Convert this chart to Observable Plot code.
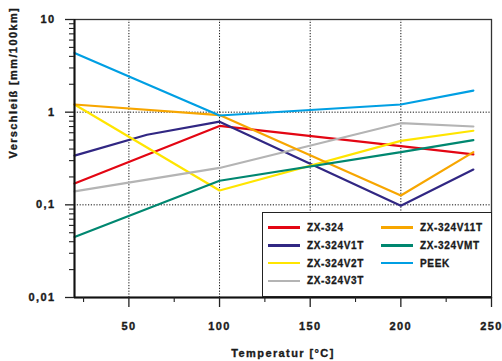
<!DOCTYPE html>
<html>
<head>
<meta charset="utf-8">
<script src="https://cdn.jsdelivr.net/npm/d3@7"></script>
<script src="https://cdn.jsdelivr.net/npm/@observablehq/plot@0.6"></script>
<style>
  html, body { margin: 0; padding: 0; background: #fff; }
  #wrap { position: relative; width: 502px; height: 361px; overflow: hidden; }
  .chart text { letter-spacing: 1.4px; stroke: #1a1a1a; stroke-width: 0.35px; }
  #legend {
    position: absolute; left: 262px; top: 212px; width: 230px; height: 85px;
    box-sizing: border-box; border: 1.5px solid #222; background: #fff;
    font-family: "Liberation Sans", Arial, sans-serif; font-weight: bold;
    font-size: 10px; letter-spacing: 0.65px; color: #1a1a1a;
    -webkit-text-stroke: 0.3px #1a1a1a;
  }
  .item { position: absolute; height: 12px; display: flex; align-items: center; white-space: nowrap; }
  .sw { width: 32px; height: 2.6px; margin-right: 7px; }
</style>
</head>
<body>
<div id="wrap"></div>
<script>
// Series names (legend order is column-major: first four left, rest right)
const seriesNames = ["ZX-324", "ZX-324V1T", "ZX-324V2T", "ZX-324V3T", "ZX-324V11T", "ZX-324VMT", "PEEK"];
const seriesColors = ["#e30613", "#312783", "#ffe500", "#b4b4b4", "#f7a600", "#008770", "#009fe3"];

// Temperatures [°C] at which wear was measured
const tempsCommon = [20, 100, 200, 240];
const tempsV1T = [20, 60, 100, 200, 240];

// Wear [mm/100km]
const wearZX324 = [0.17, 0.71, 0.43, 0.35];
const wearV1T = [0.34, 0.57, 0.79, 0.098, 0.24];
const wearV2T = [1.21, 0.143, 0.49, 0.63];
const wearV3T = [0.14, 0.25, 0.76, 0.70];
const wearV11T = [1.21, 0.93, 0.126, 0.37];
const wearVMT = [0.045, 0.182, 0.37, 0.50];
const wearPEEK = [4.35, 0.92, 1.21, 1.71];

// Axis ticks
const xMajor = [50, 100, 150, 200, 250];
const xMinor = [25, 75, 125, 175, 225];
const yMajor = [0.01, 0.1, 1, 10];
const yMinor = [0.01, 0.1, 1].flatMap(d => [2, 3, 4, 5, 6, 7, 8, 9].map(k => +(d * k).toPrecision(3)));
const xGrid = [50, 100, 150, 200];
const yGrid = [0.1, 1];

const xLabel = "Temperatur [°C]";
const yLabel = "Verschleiß [mm/100km]";

const seriesTemps = [tempsCommon, tempsV1T, tempsCommon, tempsCommon, tempsCommon, tempsCommon, tempsCommon];
const seriesWear = [wearZX324, wearV1T, wearV2T, wearV3T, wearV11T, wearVMT, wearPEEK];

const rows = seriesNames.flatMap((name, i) =>
  seriesTemps[i].map((t, j) => ({series: name, t, v: seriesWear[i][j]})));

const fmt = d => String(d).replace(".", ",");
const font = "'Liberation Sans', Arial, sans-serif";

const chart = Plot.plot({
  width: 502,
  height: 361,
  marginTop: 19,
  marginRight: 11,
  marginBottom: 64,
  marginLeft: 74,
  className: "chart",
  style: {fontFamily: font, fontWeight: "bold", fontSize: "11px", color: "#1a1a1a", background: "#fff"},
  x: {type: "linear", domain: [20, 250], axis: null},
  y: {type: "log", domain: [0.01, 10], axis: null},
  color: {domain: seriesNames, range: seriesColors},
  marks: [
    Plot.gridX(xGrid, {stroke: "#111", strokeOpacity: 1, strokeWidth: 1, strokeDasharray: "1.2,1.6"}),
    Plot.gridY(yGrid, {stroke: "#111", strokeOpacity: 1, strokeWidth: 1, strokeDasharray: "1.2,1.6"}),
    Plot.line(rows, {x: "t", y: "v", z: "series", stroke: "series", strokeWidth: 2.2, strokeLinejoin: "miter"}),
    Plot.frame({stroke: "#333", strokeWidth: 1.3}),
    Plot.ruleX([20], {stroke: "#111", strokeWidth: 2}),
    Plot.ruleY([0.01], {stroke: "#111", strokeWidth: 2}),
    Plot.axisY(yMajor, {label: null, tickSize: 9, tickPadding: 10, tickFormat: fmt, stroke: "#222", strokeWidth: 1.3}),
    Plot.axisY(yMinor, {label: null, tickSize: 5, tickFormat: () => "", stroke: "#222", strokeWidth: 1.1}),
    Plot.axisX(xMajor, {label: null, tickSize: 10, tickPadding: 15, tickFormat: d => String(d), stroke: "#222", strokeWidth: 1.3}),
    Plot.axisX(xMinor, {label: null, tickSize: 5, tickFormat: () => "", stroke: "#222", strokeWidth: 1.1}),
    Plot.text([xLabel], {frameAnchor: "bottom", dy: 59, text: d => d}),
    Plot.text([yLabel], {frameAnchor: "left", rotate: -90, dx: -61, text: d => d})
  ]
});

const wrap = document.getElementById("wrap");
wrap.appendChild(chart);

// Legend box inside the lower-right corner of the plot
const legend = document.createElement("div");
legend.id = "legend";
const colX = [[5, 44], [118, 156]];
const rowY = [8.5, 26.3, 44.1, 61.9];
const legendOrder = ["ZX-324", "ZX-324V11T", "ZX-324V1T", "ZX-324VMT", "ZX-324V2T", "PEEK", "ZX-324V3T"];
legendOrder.forEach((name, k) => {
  const c = k % 2, r = Math.floor(k / 2);
  const item = document.createElement("div");
  item.className = "item";
  item.style.left = colX[c][0] + "px";
  item.style.top = rowY[r] + "px";
  const sw = document.createElement("span");
  sw.className = "sw";
  sw.style.background = seriesColors[seriesNames.indexOf(name)];
  const label = document.createElement("span");
  label.textContent = name;
  item.appendChild(sw);
  item.appendChild(label);
  legend.appendChild(item);
});
wrap.appendChild(legend);
</script>
</body>
</html>
